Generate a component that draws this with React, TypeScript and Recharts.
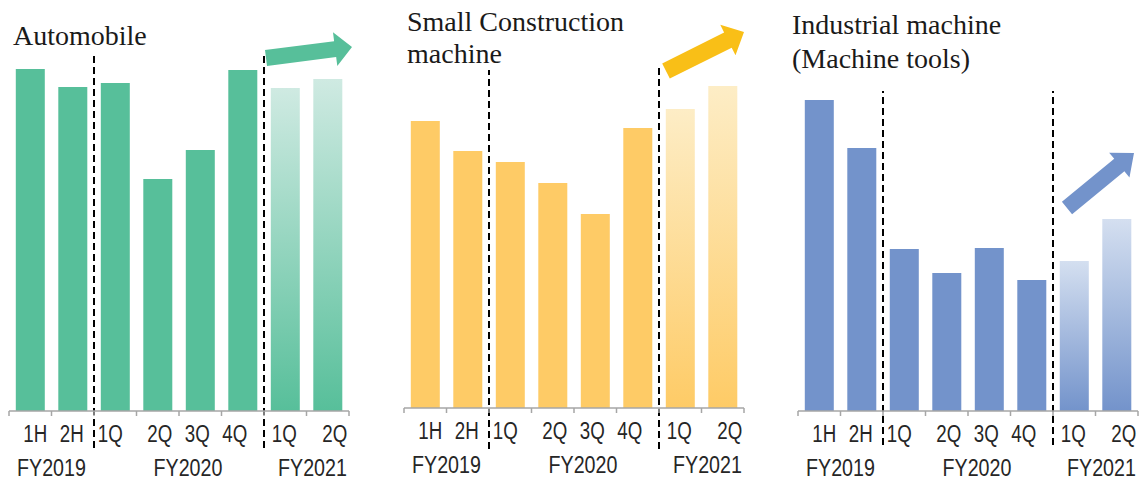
import { BarChart, Bar, XAxis, YAxis, Cell, ReferenceLine } from "recharts";

// period keys are unique so the category axis keeps all 8 bands
const periodKeys = ["FY19-1H", "FY19-2H", "FY20-1Q", "FY20-2Q", "FY20-3Q", "FY20-4Q", "FY21-1Q", "FY21-2Q"];
const periodLabels = ["1H", "2H", "1Q", "2Q", "3Q", "4Q", "1Q", "2Q"];
const fiscalYears = ["FY2019", "FY2019", "FY2020", "FY2020", "FY2020", "FY2020", "FY2021", "FY2021"];
const isOutlook = [false, false, false, false, false, false, true, true];

// relative demand level (no scale shown in the original)
const automobile = [342, 324, 328, 232, 261, 341, 323, 332];
const smallConstruction = [287, 257, 246, 225, 194, 280, 299, 322];
const industrialMachine = [311, 263, 162, 138, 163, 131, 150, 192];

// the original labels are hand-placed, not exactly centred
const periodNudge = [5, -1, -5, 2, -3, -8, -1, 7];
const yearNudge: Record<string, number> = { FY2019: 0, FY2020: 9, FY2021: 6 };

const H = 482;
const SPAN = 400;

type Pt = [number, number];

type Panel = {
  id: string;
  title: string[];
  values: number[];
  color: string;
  fadeTop: string;
  arrowColor: string;
  left: number;
  width: number;
  plotLeft: number;
  plotRight: number;
  baseline: number;
  dividerTop: number[];
  dividerBottom: number;
  titleX: number;
  titleY: number[];
  arrow: { tail: Pt; tip: Pt; shaft: number; head: number; headLen: number };
};

const panels: Panel[] = [
  {
    id: "auto",
    title: ["Automobile"],
    values: automobile,
    color: "#57BF9A",
    fadeTop: "#CFEAE2",
    arrowColor: "#57BF9A",
    left: 0,
    width: 360,
    plotLeft: 9,
    plotRight: 349,
    baseline: 411,
    dividerTop: [356, 359],
    dividerBottom: -37,
    titleX: 13,
    titleY: [45],
    arrow: { tail: [266, 58], tip: [352, 47], shaft: 8, head: 17, headLen: 17 },
  },
  {
    id: "small",
    title: ["Small Construction", "machine"],
    values: smallConstruction,
    color: "#FECB66",
    fadeTop: "#FDEDC6",
    arrowColor: "#F9BF17",
    left: 380,
    width: 380,
    plotLeft: 404,
    plotRight: 744,
    baseline: 408,
    dividerTop: [338, 341],
    dividerBottom: -41,
    titleX: 407,
    titleY: [31, 63],
    arrow: { tail: [666, 71], tip: [744, 32], shaft: 8.5, head: 17, headLen: 18 },
  },
  {
    id: "ind",
    title: ["Industrial machine", "(Machine tools)"],
    values: industrialMachine,
    color: "#7393CB",
    fadeTop: "#D4DFF0",
    arrowColor: "#7393CB",
    left: 770,
    width: 373,
    plotLeft: 798,
    plotRight: 1138,
    baseline: 411,
    dividerTop: [320, 320],
    dividerBottom: -34,
    titleX: 792,
    titleY: [34, 68],
    arrow: { tail: [1067, 208], tip: [1134, 153], shaft: 8, head: 16, headLen: 19 },
  },
];

function arrowPoints(a: Panel["arrow"]) {
  const [tx, ty] = a.tail;
  const [hx, hy] = a.tip;
  const len = Math.hypot(hx - tx, hy - ty);
  const ux = (hx - tx) / len;
  const uy = (hy - ty) / len;
  const px = -uy;
  const py = ux;
  const bx = hx - ux * a.headLen;
  const by = hy - uy * a.headLen;
  const pts: Pt[] = [
    [tx + px * a.shaft, ty + py * a.shaft],
    [bx + px * a.shaft, by + py * a.shaft],
    [bx + px * a.head, by + py * a.head],
    [hx, hy],
    [bx - px * a.head, by - py * a.head],
    [bx - px * a.shaft, by - py * a.shaft],
    [tx - px * a.shaft, ty - py * a.shaft],
  ];
  return pts.map((p) => p.join(",")).join(" ");
}

function PeriodTick(props: any) {
  const { x, y, band } = props;
  const i: number = props.index ?? props.payload?.index ?? 0;
  const yr = fiscalYears[i];
  const first = i === 0 || fiscalYears[i - 1] !== yr;
  let span = 0;
  if (first) while (fiscalYears[i + span] === yr) span++;
  const font = "'Liberation Sans', Arial, sans-serif";
  return (
    <g>
      <line x1={x - band / 2} x2={x - band / 2} y1={y} y2={y + 5} stroke="#A6A6A6" strokeWidth={1.5} />
      {i === periodKeys.length - 1 && (
        <line x1={x + band / 2} x2={x + band / 2} y1={y} y2={y + 5} stroke="#A6A6A6" strokeWidth={1.5} />
      )}
      <text
        transform={`translate(${x + periodNudge[i]},${y + 31}) scale(0.78,1)`}
        textAnchor="middle"
        fontSize={24}
        fontFamily={font}
        fill="#262626"
      >
        {periodLabels[i]}
      </text>
      {first && (
        <text
          transform={`translate(${x + ((span - 1) * band) / 2 + yearNudge[yr]},${y + 65}) scale(0.82,1)`}
          textAnchor="middle"
          fontSize={24}
          fontFamily={font}
          fill="#262626"
        >
          {yr}
        </text>
      )}
    </g>
  );
}

function PanelChart({ p }: { p: Panel }) {
  const data = periodKeys.map((key, i) => ({ key, value: p.values[i] }));
  const band = (p.plotRight - p.plotLeft) / periodKeys.length;
  const dividers = [periodKeys[1], periodKeys[5]];
  return (
    <div style={{ position: "absolute", left: p.left, top: 0 }}>
      <BarChart
        width={p.width}
        height={H}
        data={data}
        barCategoryGap="16%"
        margin={{
          top: p.baseline - SPAN,
          bottom: 0,
          left: p.plotLeft - p.left,
          right: p.left + p.width - p.plotRight,
        }}
      >
        <defs>
          <linearGradient id={`fade-${p.id}`} x1="0" y1="0" x2="0" y2="1">
            <stop offset="0%" stopColor={p.fadeTop} />
            <stop offset="100%" stopColor={p.color} />
          </linearGradient>
        </defs>
        <YAxis hide domain={[0, SPAN]} />
        <XAxis
          dataKey="key"
          height={H - p.baseline}
          interval={0}
          tickSize={0}
          tickMargin={0}
          tickLine={false}
          axisLine={{ stroke: "#A6A6A6", strokeWidth: 1.5 }}
          tick={(t: any) => <PeriodTick {...t} band={band} />}
        />
        <Bar dataKey="value" isAnimationActive={false}>
          {data.map((d, i) => (
            <Cell key={d.key} fill={isOutlook[i] ? `url(#fade-${p.id})` : p.color} />
          ))}
        </Bar>
        {dividers.map((k, j) => (
          <ReferenceLine
            key={k}
            position="end"
            ifOverflow="visible"
            segment={[
              { x: k, y: p.dividerBottom },
              { x: k, y: p.dividerTop[j] },
            ]}
            stroke="#000"
            strokeWidth={2}
            strokeDasharray="7 4"
          />
        ))}
      </BarChart>
    </div>
  );
}

export default function App() {
  return (
    <div style={{ position: "relative", width: 1143, height: H, background: "#fff", overflow: "hidden" }}>
      <style>{"body{margin:0}"}</style>
      {panels.map((p) => (
        <PanelChart key={p.id} p={p} />
      ))}
      <svg
        width={1143}
        height={H}
        style={{ position: "absolute", left: 0, top: 0, pointerEvents: "none" }}
      >
        {panels.map((p) => (
          <g key={p.id}>
            {p.title.map((line, k) => (
              <text
                key={line}
                x={p.titleX}
                y={p.titleY[k]}
                fontSize={28}
                fontFamily="'Liberation Serif', 'Times New Roman', serif"
                fill="#1a1a1a"
              >
                {line}
              </text>
            ))}
            <polygon points={arrowPoints(p.arrow)} fill={p.arrowColor} />
          </g>
        ))}
      </svg>
    </div>
  );
}
